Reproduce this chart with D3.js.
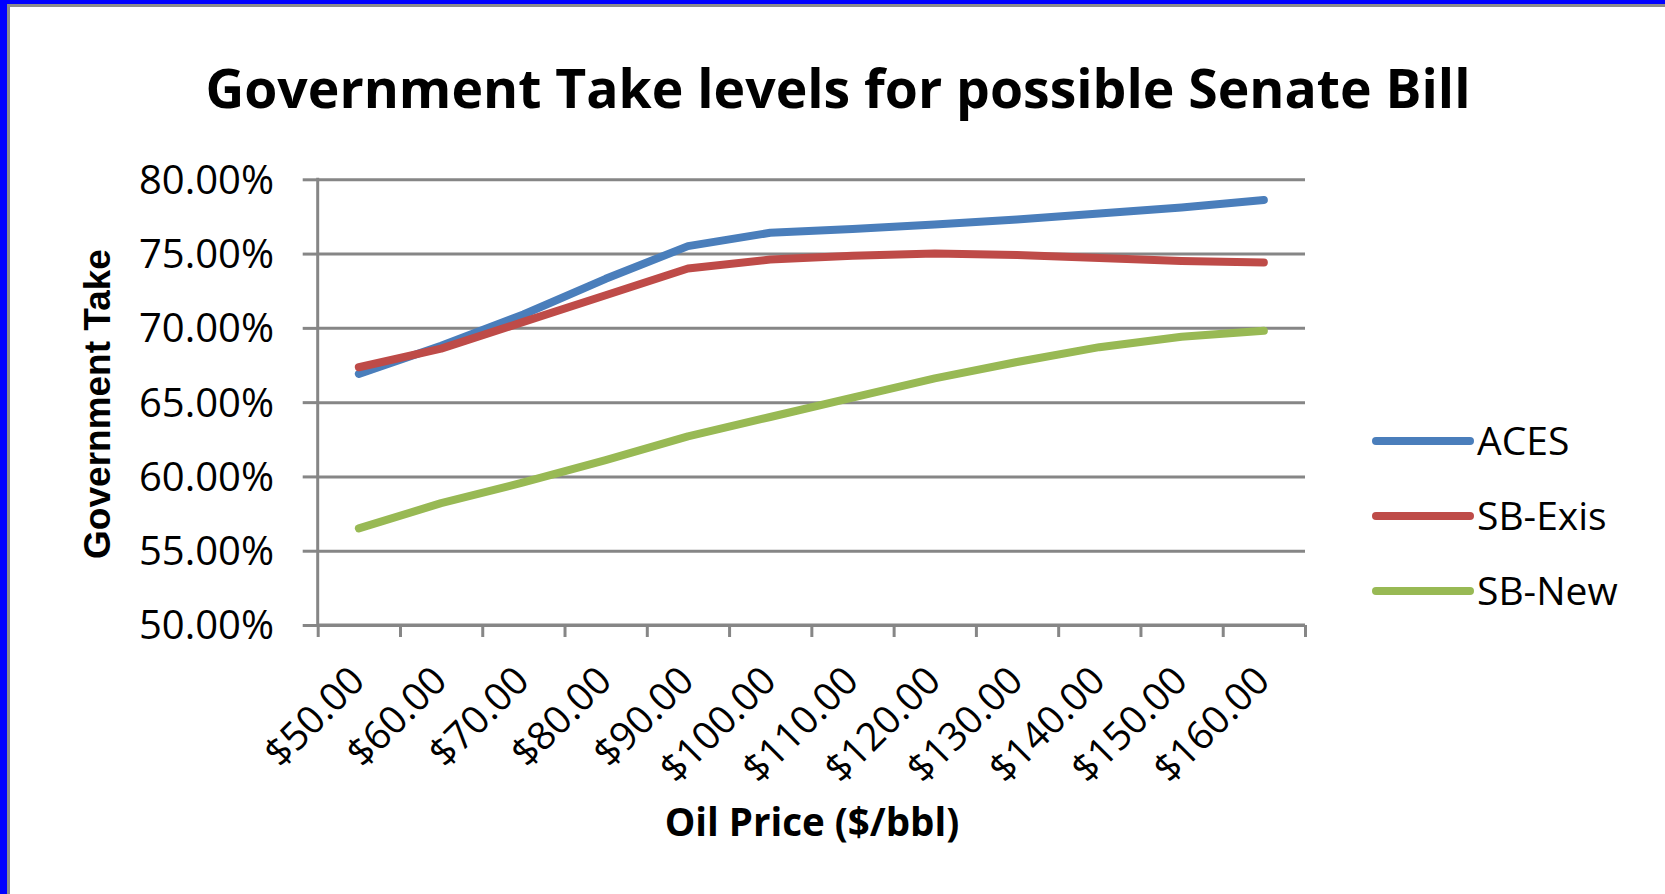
<!DOCTYPE html>
<html>
<head>
<meta charset="utf-8">
<script src="https://cdn.jsdelivr.net/npm/d3@7"></script>
<style>
  body { margin: 0; background: #fff; }
  svg { display: block; }
  text { fill: #000; }
</style>
</head>
<body>
<svg id="chart" width="1665" height="894"></svg>
<script>
// Data
const prices = ["$50.00", "$60.00", "$70.00", "$80.00", "$90.00", "$100.00",
                "$110.00", "$120.00", "$130.00", "$140.00", "$150.00", "$160.00"];
const aces   = [66.9, 68.8, 70.9, 73.3, 75.5, 76.4, 76.65, 76.95, 77.3, 77.7, 78.1, 78.6];
const sbExis = [67.35, 68.6, 70.4, 72.2, 74.0, 74.6, 74.85, 75.0, 74.9, 74.7, 74.5, 74.4];
const sbNew  = [56.5, 58.2, 59.6, 61.1, 62.7, 64.0, 65.3, 66.6, 67.7, 68.7, 69.4, 69.8];
const yTicks = [50, 55, 60, 65, 70, 75, 80];
const seriesNames = ["ACES", "SB-Exis", "SB-New"];
const seriesColors = ["#4a7ebb", "#be4b48", "#98b954"];

const PLOT = { left: 317.7, right: 1305, top: 179.3, bottom: 625 };
const GRID = "#868686";

const svg = d3.select("#chart");

// frame: blue outer edge + grey inner edge (left and top only)
svg.append("rect").attr("x", 0).attr("y", 0).attr("width", 7).attr("height", 894).attr("fill", "#0000ff");
svg.append("rect").attr("x", 0).attr("y", 0).attr("width", 1665).attr("height", 4).attr("fill", "#0000ff");
svg.append("rect").attr("x", 7).attr("y", 4).attr("width", 3).attr("height", 890).attr("fill", "#8c8c8c");
svg.append("rect").attr("x", 7).attr("y", 4).attr("width", 1658).attr("height", 3).attr("fill", "#8c8c8c");

const x = d3.scaleBand().domain(prices).range([PLOT.left, PLOT.right]).padding(0);
const xEdge = d3.scaleLinear([0, prices.length], [PLOT.left, PLOT.right]);
const y = d3.scaleLinear([50, 80], [PLOT.bottom, PLOT.top]);

// horizontal gridlines (with the small tick stub on the left)
svg.append("g")
  .attr("transform", `translate(${PLOT.left},0)`)
  .call(d3.axisLeft(y).tickValues(yTicks).tickSize(15).tickFormat(""))
  .call(g => g.select(".domain").remove())
  .call(g => g.selectAll(".tick line").clone()
      .attr("x2", PLOT.right - PLOT.left))
  .call(g => g.selectAll("line").attr("stroke", GRID).attr("stroke-width", 3));

// y axis line
svg.append("line")
  .attr("x1", PLOT.left).attr("x2", PLOT.left)
  .attr("y1", PLOT.top - 1.5).attr("y2", PLOT.bottom + 1.5)
  .attr("stroke", GRID).attr("stroke-width", 3);

// y tick labels
svg.append("g").selectAll("text")
  .data(yTicks)
  .join("text")
  .attr("x", 274)
  .attr("y", d => y(d))
  .attr("dy", "0.36em")
  .attr("text-anchor", "end")
  .attr("font-family", "Open Sans")
  .attr("font-size", 40)
  .text(d => d.toFixed(2) + "%");

// x axis with ticks at category boundaries
svg.append("g")
  .attr("transform", `translate(0,${PLOT.bottom})`)
  .call(d3.axisBottom(xEdge).tickValues(d3.range(prices.length + 1)).tickSize(12).tickFormat(""))
  .call(g => g.select(".domain").remove())
  .call(g => g.selectAll("line").attr("stroke", GRID).attr("stroke-width", 3));
svg.append("line")
  .attr("x1", PLOT.left).attr("x2", PLOT.right)
  .attr("y1", PLOT.bottom).attr("y2", PLOT.bottom)
  .attr("stroke", GRID).attr("stroke-width", 3);

// rotated x labels
svg.append("g").selectAll("text")
  .data(prices)
  .join("text")
  .attr("transform", d => `translate(${x(d) + x.bandwidth() / 2 + 8},${PLOT.bottom + 58}) rotate(-45)`)
  .attr("text-anchor", "end")
  .attr("font-family", "Open Sans")
  .attr("font-size", 39)
  .text(d => d);

// series lines
const series = [aces, sbExis, sbNew];
const line = d3.line()
  .x((v, i) => x(prices[i]) + x.bandwidth() / 2)
  .y(v => y(v));

svg.append("g").selectAll("path")
  .data(series)
  .join("path")
  .attr("d", d => line(d))
  .attr("fill", "none")
  .attr("stroke", (d, i) => seriesColors[i])
  .attr("stroke-width", 8)
  .attr("stroke-linecap", "round")
  .attr("stroke-linejoin", "round");

// legend
const legend = svg.append("g");
const legendY = [441, 516, 591];
seriesNames.forEach((name, i) => {
  legend.append("line")
    .attr("x1", 1376).attr("x2", 1470)
    .attr("y1", legendY[i]).attr("y2", legendY[i])
    .attr("stroke", seriesColors[i]).attr("stroke-width", 8)
    .attr("stroke-linecap", "round");
  legend.append("text")
    .attr("x", 1477).attr("y", legendY[i])
    .attr("dy", "0.36em")
    .attr("font-family", "Open Sans")
    .attr("font-size", 39)
    .text(name);
});

// titles
svg.append("text")
  .attr("x", 838).attr("y", 108)
  .attr("text-anchor", "middle")
  .attr("font-family", "Open Sans")
  .attr("font-weight", 700)
  .attr("font-size", 53.5)
  .text("Government Take levels for possible Senate Bill");

svg.append("text")
  .attr("x", 812).attr("y", 836)
  .attr("text-anchor", "middle")
  .attr("font-family", "Open Sans")
  .attr("font-weight", 700)
  .attr("font-size", 38.5)
  .text("Oil Price ($/bbl)");

svg.append("text")
  .attr("transform", "translate(110,404) rotate(-90)")
  .attr("text-anchor", "middle")
  .attr("font-family", "Liberation Sans")
  .attr("font-weight", 700)
  .attr("font-size", 37)
  .text("Government Take");
</script>
</body>
</html>
